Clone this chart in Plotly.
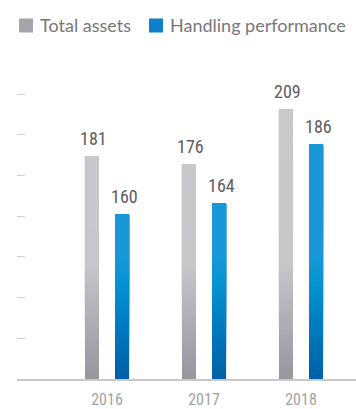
import plotly.graph_objects as go

# Data
years = ["2016", "2017", "2018"]
total_assets = [181, 176, 209]
handling_performance = [160, 164, 186]
series_names = ["Total assets", "Handling performance"]
series_colors = ["#a3a5aa", "#1180cb"]

# Layout geometry (pixels)
W, H = 356, 409
M_L, M_R, M_T, M_B = 17, 0, 60, 30
PLOT_W = W - M_L - M_R
PLOT_H = H - M_T - M_B

# Each series sits on its own value axis (different scales)
GRAY_MIN, GRAY_PX = 47.77, 1.674      # axis start, px per unit
BLUE_MIN, BLUE_PX = 98.59, 2.684
gray_range = [GRAY_MIN, GRAY_MIN + PLOT_H / GRAY_PX]
blue_range = [BLUE_MIN, BLUE_MIN + PLOT_H / BLUE_PX]

# Vertical gradients (fraction of plot height -> colour)
GRAY_STOPS = [(0.0, (0x94, 0x97, 0x9E)), (0.36, (0xC6, 0xC6, 0xCB)), (1.0, (0xC9, 0xC9, 0xCE))]
BLUE_STOPS = [(0.0, (0x00, 0x5F, 0xA7)), (0.16, (0x00, 0x7A, 0xBE)),
              (0.30, (0x06, 0x94, 0xD3)), (0.38, (0x18, 0x98, 0xD6)), (1.0, (0x18, 0x98, 0xD6))]


def grad(stops, t):
    t = max(0.0, min(1.0, t))
    for (t0, c0), (t1, c1) in zip(stops[:-1], stops[1:]):
        if t <= t1:
            f = 0 if t1 == t0 else (t - t0) / (t1 - t0)
            c = [round(a + (b - a) * f) for a, b in zip(c0, c1)]
            return "rgb(%d,%d,%d)" % tuple(c)
    return "rgb(%d,%d,%d)" % stops[-1][1]


BAR_W = 0.144
K = 48  # number of shading layers per bar

NUM_FONT = "Roboto Condensed, Noto Sans Condensed, Open Sans Condensed, Liberation Sans Narrow, Roboto, sans-serif"
TXT_FONT = "Lato, Noto Sans, sans-serif"

fig = go.Figure()
annotations = []


def add_series(values, amin, px, stops, offset, yaxis, yref):
    # Layers are drawn bottom-up; each one runs from its start to the bar's
    # value, so the next layer covers it and no seams appear.
    for k in range(K):
        bases, heights, colors = [], [], []
        for v in values:
            step = (v - amin) / K
            b = amin + step * k
            bases.append(b)
            heights.append(v - b)
            mid_px = (b + step / 2 - amin) * px
            colors.append(grad(stops, mid_px / PLOT_H))
        fig.add_trace(go.Bar(
            x=years, y=heights, base=bases, yaxis=yaxis,
            width=BAR_W, offset=offset,
            marker=dict(color=colors, line=dict(width=0)),
            showlegend=False, hoverinfo="skip",
        ))
    # value labels above each bar
    for i, v in enumerate(values):
        annotations.append(dict(
            x=i + offset + BAR_W / 2, y=v, xref="x", yref=yref,
            text=str(v), showarrow=False, xanchor="center", yanchor="bottom",
            xshift=2, yshift=5,
            font=dict(family=NUM_FONT, size=18, color="#5c5c5e"),
        ))


add_series(total_assets, GRAY_MIN, GRAY_PX, GRAY_STOPS, -0.227, "y", "y")
add_series(handling_performance, BLUE_MIN, BLUE_PX, BLUE_STOPS, 0.083, "y2", "y2")


# Legend drawn above the plot: swatch + label for each series
def px_x(p):
    return (p - M_L) / PLOT_W


def px_y(p):
    return (H - M_B - p) / PLOT_H


shapes = []
legend_swatch_x = [19, 149]
for name, color, sx in zip(series_names, series_colors, legend_swatch_x):
    shapes.append(dict(type="rect", xref="paper", yref="paper",
                       x0=px_x(sx), x1=px_x(sx + 14), y0=px_y(32.5), y1=px_y(18.5),
                       fillcolor=color, line=dict(width=0)))
    annotations.append(dict(x=px_x(sx + 19), y=px_y(25), xref="paper", yref="paper",
                            text=name, showarrow=False, xanchor="left", yanchor="middle",
                            font=dict(family=TXT_FONT, size=18, color="#77777b")))

fig.update_layout(
    width=W, height=H,
    margin=dict(l=M_L, r=M_R, t=M_T, b=M_B, autoexpand=False),
    paper_bgcolor="white", plot_bgcolor="white",
    barmode="overlay",
    showlegend=False,
    annotations=annotations,
    shapes=shapes,
    xaxis=dict(type="category", categoryorder="array", categoryarray=years,
               range=[-0.928, 2.567], showline=True, linecolor="#c9c9c9", linewidth=1.5,
               ticks="", showgrid=False, zeroline=False, ticklabelstandoff=5,
               automargin=False,
               tickfont=dict(family=NUM_FONT, size=16, color="#a2a2a2")),
    yaxis=dict(range=gray_range, tickmode="linear", tick0=GRAY_MIN, dtick=24.31,
               ticks="inside", ticklen=8, tickwidth=1, tickcolor="#cfcfcf",
               showticklabels=False, showgrid=False, showline=False, zeroline=False,
               automargin=False),
    yaxis2=dict(range=blue_range, overlaying="y", visible=False),
    font=dict(family=TXT_FONT),
)

fig.write_html("out.html")
